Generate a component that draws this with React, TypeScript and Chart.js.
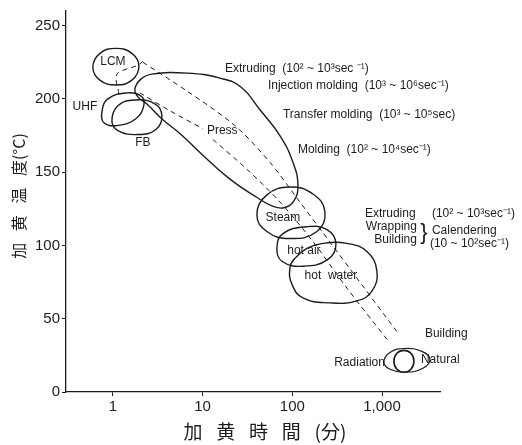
import React, { useEffect, useRef } from "react";
import { Chart, registerables } from "chart.js";

Chart.register(...registerables);

type Pt = [number, number]; // [time (min), temperature (°C)]

// Axis ticks
const timeTicks = [1, 10, 100, 1000];
const timeTickLabels = ["1", "10", "100", "1,000"];
const tempTicks = [0, 50, 100, 150, 200, 250];

// Process regions (closed outlines)
const lcmRegion: Pt[] = [
  [0.598, 221.6], [0.716, 231.1], [1.08, 234.5], [1.628, 231.1],
  [1.949, 222.3], [1.628, 212.8], [1.08, 209.5], [0.716, 212.8],
];
const uhfRegion: Pt[] = [
  [0.754, 191.2], [0.88, 200.0], [1.432, 204.1], [2.052, 202.0],
  [2.216, 195.9], [1.804, 186.5], [1.108, 181.8], [0.794, 183.8],
];
const fbRegion: Pt[] = [
  [0.975, 185.1], [1.137, 195.3], [1.759, 199.3], [2.939, 196.6],
  [3.518, 188.5], [3.016, 179.1], [1.899, 175.7], [1.137, 178.4],
];
const moldingRegion: Pt[] = [
  [1.759, 206.8], [2.052, 213.5], [2.721, 216.9], [6.683, 217.6],
  [15.59, 214.2], [26.73, 208.1], [43.54, 192.6], [72.73, 175.0],
  [101.6, 156.8], [115.5, 141.2], [104.2, 130.4], [80.6, 125.7],
  [59.2, 127.0], [41.35, 132.4], [20.16, 145.3], [9.33, 163.5],
  [5.583, 176.4], [3.609, 185.8], [2.393, 196.6], [1.899, 201.4],
];
const steamRegion: Pt[] = [
  [40.31, 120.9], [52.1, 134.5], [94.0, 139.9], [169.7, 135.1],
  [230.9, 123.0], [188.1, 109.5], [94.0, 104.7], [52.1, 109.5],
];
const hotAirRegion: Pt[] = [
  [67.34, 98.0], [78.57, 108.1], [145.5, 112.8], [243.1, 110.8],
  [306.3, 101.4], [249.5, 90.5], [131.3, 85.8], [76.6, 89.2],
];
const hotWaterRegion: Pt[] = [
  [106.9, 91.2], [145.5, 98.0], [219.4, 101.4], [406.3, 101.4],
  [678.7, 95.9], [877.3, 82.4], [771.7, 68.9], [525.1, 62.2],
  [262.6, 60.8], [131.3, 64.2], [99.0, 73.6], [94.0, 84.5],
];
const radiationRegion: Pt[] = [
  [1357, 21.0], [1466, 26.4], [1754, 28.4], [2100, 26.4],
  [2268, 21.0], [2100, 15.5], [1754, 13.5], [1466, 15.5],
];
const naturalRegion: Pt[] = [
  [1050, 20.3], [1225, 27.0], [1800, 29.7], [2785, 27.7],
  [3420, 22.3], [2858, 16.2], [1800, 13.5], [1225, 15.5],
];

// Dashed guide lines
const lcmGuide: Pt[] = [[1.166, 203.4], [1.108, 216.9], [1.899, 223.0], [2.16, 225.7]];
const upperGuide: Pt[] = [
  [2.16, 225.0], [6.683, 205.4], [22.92, 181.8], [56.27, 156.8],
  [112.5, 132.4], [1466, 41.2],
];
const pressGuideTop: Pt[] = [[2.0, 204.1], [4.32, 191.9], [10.08, 179.7]];
const pressGuideBottom: Pt[] = [
  [13.03, 172.3], [31.18, 152.0], [72.73, 129.7], [169.7, 102.7],
  [406.3, 70.9], [1164, 35.1],
];

const INK = "#1c1c1c";
const LATIN = "'Liberation Sans', Arial, sans-serif";
const CJK = "'Noto Sans CJK JP', sans-serif";

type Note = { text: string; t: number; T: number; align?: CanvasTextAlign; size?: number };

const notes: Note[] = [
  { text: "LCM", t: 1.0, T: 225.7, align: "center" },
  { text: "UHF", t: 0.487, T: 194.6, align: "center" },
  { text: "FB", t: 2.16, T: 170.3, align: "center" },
  { text: "Press", t: 11.16, T: 178.4 },
  { text: "Extruding  (10² ~ 10³sec ⁻¹)", t: 17.73, T: 220.9 },
  { text: "Injection molding  (10³ ~ 10⁶sec⁻¹)", t: 53.5, T: 208.8 },
  { text: "Transfer molding  (10³ ~ 10⁵sec)", t: 78.57, T: 189.2 },
  { text: "Molding  (10² ~ 10⁴sec⁻¹)", t: 115.5, T: 165.5 },
  { text: "Steam", t: 78.57, T: 118.9, align: "center" },
  { text: "hot air", t: 134.7, T: 96.6, align: "center" },
  { text: "hot  water", t: 269.4, T: 79.1, align: "center" },
  { text: "Extruding", t: 644.7, T: 121.6 },
  { text: "(10² ~ 10³sec⁻¹)", t: 3601, T: 121.6 },
  { text: "Wrapping", t: 2449, T: 112.8, align: "right" },
  { text: "Building", t: 2449, T: 104.1, align: "right" },
  { text: "}", t: 2932, T: 108.8, align: "center", size: 22 },
  { text: "Calendering", t: 3601, T: 110.1 },
  { text: "(10 ~ 10²sec⁻¹)", t: 3420, T: 101.4 },
  { text: "Building", t: 3009, T: 39.9 },
  { text: "Radiation", t: 1077, T: 20.3, align: "right" },
  { text: "Natural", t: 2715, T: 22.3 },
];

const xy = (pts: Pt[]) => pts.map(([x, y]) => ({ x, y }));

const outline = (pts: Pt[], width = 1.4) => ({
  data: xy(pts),
  closed: true,
  borderColor: INK,
  borderWidth: width,
  pointRadius: 0,
  tension: 0.45,
  fill: false,
});

const guide = (pts: Pt[]) => ({
  data: xy(pts),
  borderColor: INK,
  borderWidth: 1,
  borderDash: [5, 4],
  pointRadius: 0,
  tension: 0.3,
  fill: false,
});

// Turns datasets flagged `closed` into smooth closed loops
const closedLoops = {
  id: "closedLoops",
  afterDatasetsUpdate(chart: any) {
    chart.data.datasets.forEach((ds: any, i: number) => {
      if (!ds.closed) return;
      const line = chart.getDatasetMeta(i).dataset;
      if (!line) return;
      line._loop = true;
      line._fullLoop = true;
      line._pointsUpdated = false;
      line._segments = undefined;
      line._path = undefined;
    });
  },
};

const annotations = {
  id: "annotations",
  afterDraw(chart: any) {
    const { ctx, chartArea } = chart;
    const x = chart.scales.x;
    const y = chart.scales.y;
    ctx.save();
    ctx.fillStyle = INK;
    ctx.textBaseline = "middle";
    for (const n of notes) {
      ctx.font = `${n.size ?? 12}px ${LATIN}`;
      ctx.textAlign = n.align ?? "left";
      ctx.fillText(n.text, x.getPixelForValue(n.t), y.getPixelForValue(n.T));
    }
    // axis titles
    ctx.textAlign = "center";
    ctx.font = `19px ${CJK}`;
    ctx.fillText("加\u2002 黄\u2002 時\u2002 間\u2002 (分)", chartArea.left + 199, chartArea.bottom + 40);
    ctx.translate(19, chartArea.top + 185);
    ctx.rotate(-Math.PI / 2);
    ctx.font = `16px ${CJK}`;
    ctx.fillText("加\u2002 黄\u2002 温\u2002 度(°C)", 0, 0);
    ctx.restore();
  },
};

export default function App() {
  const ref = useRef<HTMLCanvasElement>(null);

  useEffect(() => {
    if (!ref.current) return;
    const chart = new Chart(ref.current, {
      type: "line",
      data: {
        datasets: [
          outline(lcmRegion),
          outline(uhfRegion),
          outline(fbRegion),
          outline(moldingRegion),
          outline(steamRegion),
          outline(hotAirRegion),
          outline(hotWaterRegion),
          outline(naturalRegion, 1.2),
          outline(radiationRegion, 1.6),
          guide(lcmGuide),
          guide(upperGuide),
          guide(pressGuideTop),
          guide(pressGuideBottom),
        ] as any,
      },
      options: {
        animation: false,
        responsive: false,
        devicePixelRatio: 1,
        events: [],
        layout: { padding: { left: 0, top: 7, right: 82, bottom: 0 } },
        plugins: { legend: { display: false }, tooltip: { enabled: false } },
        scales: {
          x: {
            type: "logarithmic",
            min: 0.3,
            max: 4430,
            afterBuildTicks: (s: any) => {
              s.ticks = timeTicks.map((v) => ({ value: v }));
            },
            afterFit: (s: any) => {
              s.height = 53;
            },
            ticks: {
              autoSkip: false,
              maxRotation: 0,
              padding: 2,
              color: INK,
              font: { family: LATIN, size: 15 },
              callback: (_v: any, i: number) => timeTickLabels[i],
            },
            grid: { drawOnChartArea: false, tickLength: 4, color: INK },
            border: { display: true, color: INK, width: 1.3 },
          },
          y: {
            type: "linear",
            min: 0,
            max: 260,
            afterBuildTicks: (s: any) => {
              s.ticks = tempTicks.map((v) => ({ value: v }));
            },
            afterFit: (s: any) => {
              s.width = 66;
            },
            ticks: {
              padding: 2,
              color: INK,
              font: { family: LATIN, size: 15 },
              callback: (v: any) => String(v),
            },
            grid: { drawOnChartArea: false, tickLength: 4, color: INK },
            border: { display: true, color: INK, width: 1.3 },
          },
        },
      } as any,
      plugins: [closedLoops, annotations],
    });
    return () => chart.destroy();
  }, []);

  return (
    <div style={{ position: "fixed", left: 0, top: 0, width: 522, height: 445, background: "#fff" }}>
      <canvas ref={ref} width={522} height={445} />
    </div>
  );
}
